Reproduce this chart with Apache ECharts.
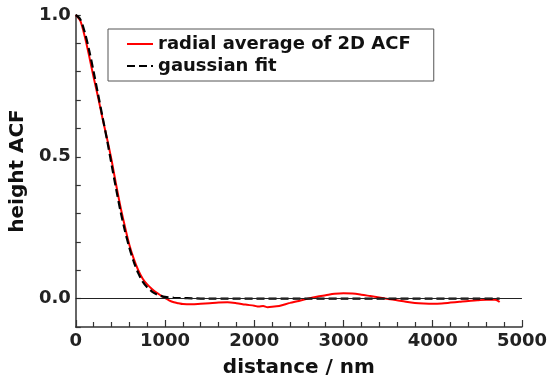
<!DOCTYPE html>
<html>
<head>
<meta charset="utf-8">
<script src="https://cdn.jsdelivr.net/npm/echarts@6/dist/echarts.min.js"></script>
<style>html,body{margin:0;padding:0;background:#fff}#c{width:550px;height:383px}</style>
</head>
<body>
<div id="c"></div>
<script>
var acfDistance = [0,50,100,150,200,250,300,350,400,450,500,550,600,650,700,750,800,850,900,950,1000,1050,1100,1150,1200,1300,1400,1500,1600,1700,1800,1900,2000,2050,2100,2150,2200,2250,2300,2400,2500,2600,2700,2800,2900,3000,3100,3200,3300,3400,3500,3600,3700,3800,3900,4000,4100,4200,4300,4400,4500,4600,4700,4750];
var acfValues = [1.0,0.98,0.925,0.855,0.78,0.71,0.635,0.565,0.49,0.405,0.325,0.255,0.19,0.14,0.10,0.07,0.05,0.035,0.022,0.012,0.003,-0.007,-0.013,-0.016,-0.019,-0.02,-0.018,-0.016,-0.014,-0.013,-0.016,-0.021,-0.025,-0.028,-0.026,-0.03,-0.029,-0.027,-0.024,-0.015,-0.008,0.0,0.007,0.012,0.017,0.019,0.018,0.014,0.009,0.004,-0.001,-0.006,-0.011,-0.015,-0.017,-0.018,-0.017,-0.014,-0.011,-0.008,-0.006,-0.004,-0.004,-0.012];
var fitDistance = [0,50,100,150,200,250,300,350,400,450,500,550,600,650,700,750,800,850,900,950,1000,1100,1200,1300,1500,2000,2500,3000,3500,4000,4500,4750];
var fitValues = [1.0,0.985,0.94,0.875,0.80,0.72,0.64,0.56,0.475,0.39,0.31,0.24,0.18,0.13,0.09,0.06,0.04,0.026,0.016,0.01,0.006,0.003,0.002,0.001,0,0,0,0,0,0,0,0];
var xTicks = {min: 0, max: 5000, step: 1000};
var yTicks = {min: -0.1, max: 1.0, step: 0.1};
var seriesNames = ['radial average of 2D ACF', 'gaussian fit'];

function pairs(xs, ys){ return xs.map(function(x,i){ return [x, ys[i]]; }); }

var chart = echarts.init(document.getElementById('c'), null, {renderer:'canvas'});
var font = 'DejaVu Sans';
chart.setOption({
  animation: false,
  backgroundColor: '#fff',
  grid: {left: 75, right: 25, top: 15, bottom: 56, containLabel: false},
  legend: {
    left: 108, top: 29, orient: 'vertical',
    borderColor: '#555', borderWidth: 1, borderRadius: 0,
    padding: [6, 23, 6, 18], itemGap: 4, itemWidth: 26, itemHeight: 14,
    itemStyle: {opacity: 0},
    textStyle: {fontFamily: font, fontWeight: 'bold', fontSize: 18, color: '#111'},
    data: seriesNames
  },
  xAxis: {
    type: 'value', min: xTicks.min, max: xTicks.max, interval: xTicks.step,
    name: 'distance / nm', nameLocation: 'middle', nameGap: 31,
    nameTextStyle: {fontFamily: font, fontWeight: 'bold', fontSize: 20, color: '#111'},
    axisLine: {onZero: false, lineStyle: {color: '#333', width: 1.5}},
    axisTick: {inside: true, length: 7, lineStyle: {color: '#333', width: 1.2}},
    minorTick: {show: true, splitNumber: 5, length: 5, lineStyle: {color: '#333', width: 1.2}},
    axisLabel: {fontFamily: font, fontWeight: 'bold', fontSize: 18, color: '#222', margin: 5,
      formatter: function(v){ return String(Math.round(v)); }},
    splitLine: {show: false}
  },
  yAxis: {
    type: 'value', min: yTicks.min, max: yTicks.max, interval: yTicks.step,
    name: 'height ACF', nameLocation: 'middle', nameGap: 35, nameRotate: 90,
    nameTextStyle: {fontFamily: font, fontWeight: 'bold', fontSize: 20, color: '#111'},
    axisLine: {onZero: false, lineStyle: {color: '#333', width: 1.5}},
    axisTick: {inside: true, length: 5, lineStyle: {color: '#333', width: 1.2}},
    axisLabel: {fontFamily: font, fontWeight: 'bold', fontSize: 18, color: '#222', margin: 5,
      formatter: function(v){ var r = Math.round(v*2)/2; return Math.abs(v-r) < 1e-6 ? r.toFixed(1) : ''; }},
    splitLine: {show: false}
  },
  series: [
    {
      name: seriesNames[0], type: 'line', symbol: 'none', smooth: 0.3,
      data: pairs(acfDistance, acfValues),
      lineStyle: {color: '#ff0000', width: 2},
      itemStyle: {color: '#ff0000'},
      z: 3,
      markLine: {
        silent: true, symbol: 'none', label: {show: false},
        lineStyle: {color: '#222', width: 1, type: 'solid'},
        data: [{yAxis: 0}]
      }
    },
    {
      name: seriesNames[1], type: 'line', symbol: 'none', smooth: 0.3,
      data: pairs(fitDistance, fitValues),
      lineStyle: {color: '#000', width: 2.2, type: [8, 4]},
      itemStyle: {color: '#000'},
      z: 4
    }
  ]
});
</script>
</body>
</html>
